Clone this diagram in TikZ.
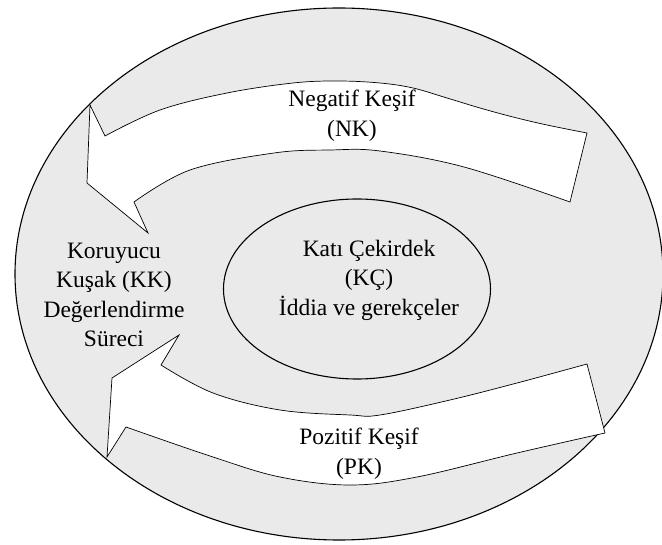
\documentclass[tikz,border=0pt]{standalone}
\usepackage{fontspec}
\setmainfont{Liberation Serif}
\usetikzlibrary{shapes.geometric}
\definecolor{beltgray}{RGB}{234,234,234}
\tikzset{
  labeltext/.style={align=center, inner sep=0pt, font=\fontsize{23.5}{29.6}\selectfont},
  blockarrow/.style={draw=black, fill=white, line width=0.7pt, line join=miter},
  ring/.style={draw=black, line width=1.1pt}
}
\begin{document}
\begin{tikzpicture}[x=1pt,y=-1pt]
\useasboundingbox (0,0) rectangle (662,545);
% outer belt
\node[ring, fill=beltgray, ellipse, minimum width=648pt, minimum height=532pt, inner sep=0pt] (belt) at (339,274) {};
\node[ring, fill=beltgray, ellipse, minimum width=267pt, minimum height=180pt, inner sep=0pt] (core) at (357,289) {};
% negative heuristic arrow (top)
\draw[blockarrow] (87,183) -- (90,105) -- (105,136)
  -- plot[smooth, tension=0.6] coordinates {(105,136) (160,110) (227,93) (293,83) (338,81) (380,83) (413,88) (447,98) (480,108) (513,117) (547,125) (587,133)}
  -- (570,202)
  -- plot[smooth, tension=0.6] coordinates {(570,202) (464,167) (380,151) (330,150) (274,153) (190,170) (134,202)}
  -- (148,233) -- cycle;
% positive heuristic arrow (bottom)
\draw[blockarrow] (107,457) -- (112,378) -- (179,335) -- (161,365)
  -- plot[smooth, tension=0.6] coordinates {(161,365) (213,393) (280,410) (350,415) (380,415) (450,400) (517,383) (587,364)}
  -- (605,433)
  -- plot[smooth, tension=0.6] coordinates {(605,433) (517,453) (417,477) (350,485) (280,477) (213,457) (126,427)}
  -- cycle;
% texts
\node[labeltext] (nk) at (352,116) {Negatif Keşif\\(NK)};
\node[labeltext] (kk) at (114,295) {Koruyucu\\Kuşak (KK)\\Değerlendirme\\Süreci};
\node[labeltext] (kc) at (369,280) {Katı Çekirdek\\(KÇ)\\İddia ve gerekçeler};
\node[labeltext] (pk) at (359,454) {Pozitif Keşif\\(PK)};
\end{tikzpicture}
\end{document}
